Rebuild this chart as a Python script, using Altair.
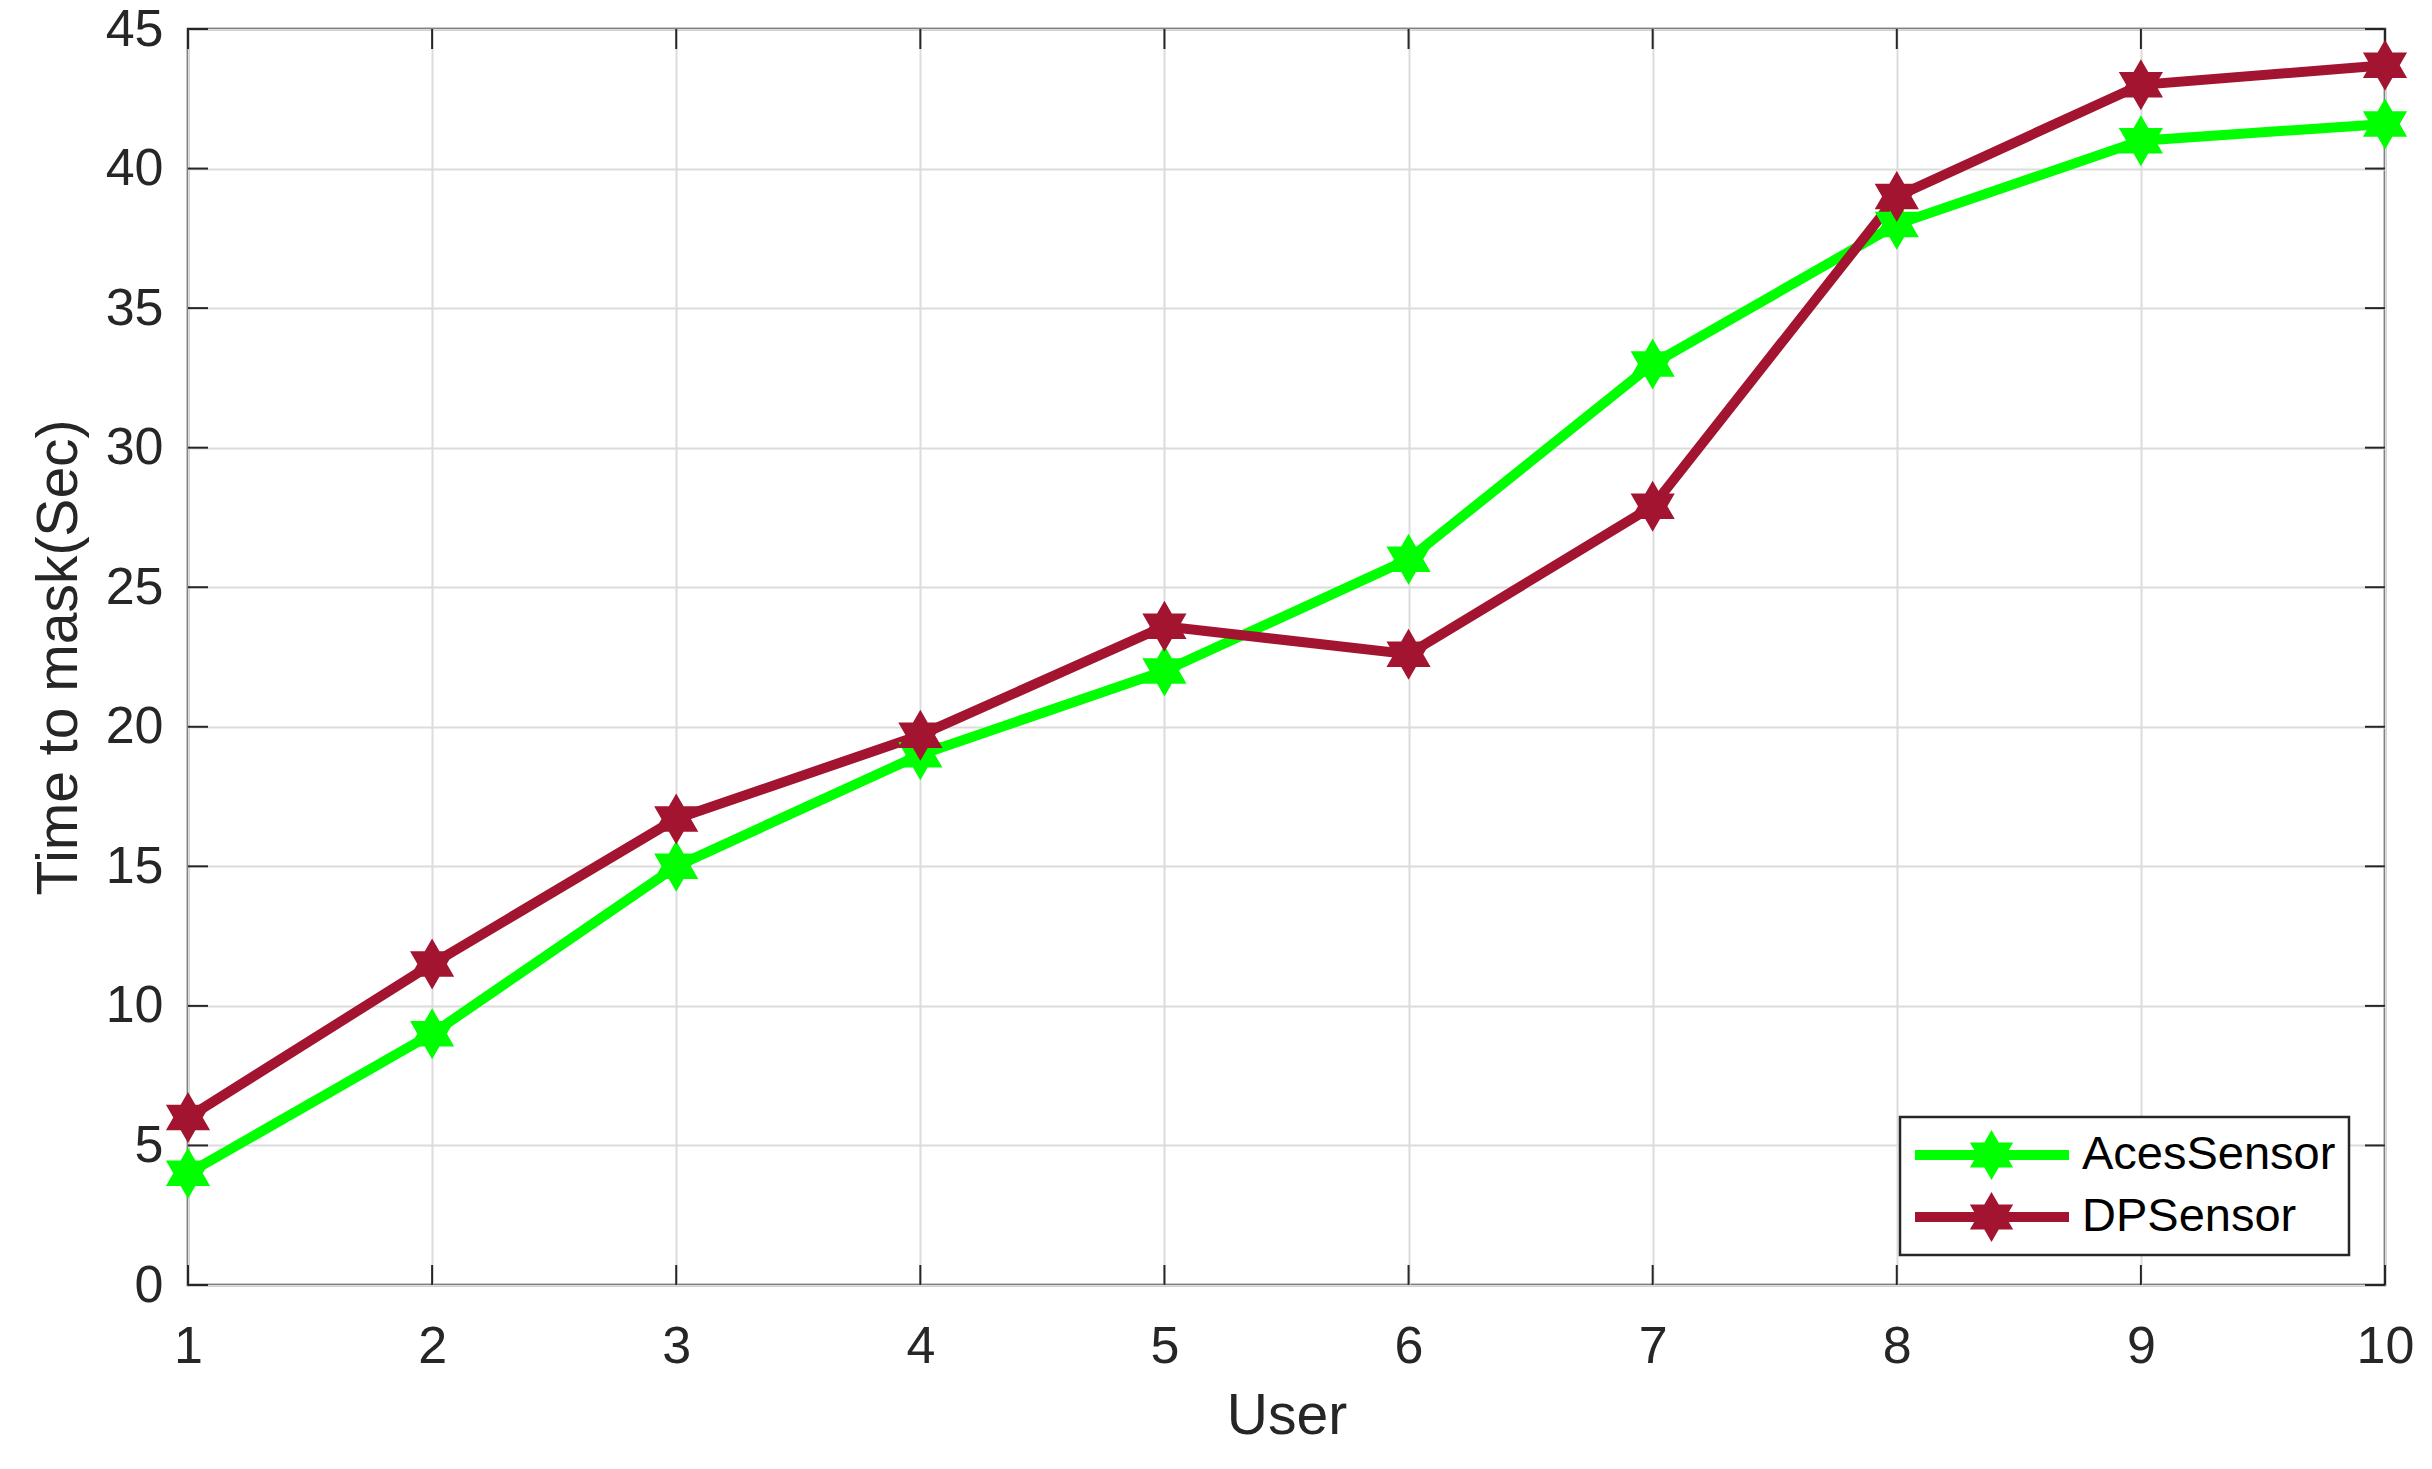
import altair as alt
import pandas as pd

# ---------------- data ----------------
users = [1, 2, 3, 4, 5, 6, 7, 8, 9, 10]
aces_sensor = [4.0, 9.0, 15.0, 19.0, 22.0, 26.0, 33.0, 38.0, 41.0, 41.6]
dp_sensor = [6.0, 11.5, 16.7, 19.7, 23.6, 22.6, 27.9, 39.0, 43.0, 43.7]
series_names = ["AcesSensor", "DPSensor"]
series_colors = ["#00FF00", "#A2142F"]
x_ticks = [1, 2, 3, 4, 5, 6, 7, 8, 9, 10]
y_ticks = [0, 5, 10, 15, 20, 25, 30, 35, 40, 45]

# ---------------- style ----------------
W, H = 2197, 1256
TICK = 20
FONT = "Liberation Sans"
AX = "#262626"

STAR = [(0, -1), (0.2887, -0.5), (0.866, -0.5), (0.5774, 0), (0.866, 0.5),
        (0.2887, 0.5), (0, 1), (-0.2887, 0.5), (-0.866, 0.5), (-0.5774, 0),
        (-0.866, -0.5), (-0.2887, -0.5)]


def star_path(dx=0.0):
    pts = ["%s%.4f,%.4f" % ("M" if i == 0 else "L", x + dx, y) for i, (x, y) in enumerate(STAR)]
    return "".join(pts) + "Z"


HEX = star_path()
# legend glyph: line segment + hexagram (all filled)
LEG = "M-0.92,-0.2L5.24,-0.2L5.24,0.2L-0.92,0.2Z" + star_path(2.14)

df = pd.DataFrame({
    "User": users + users,
    "Time": aces_sensor + dp_sensor,
    "Series": [series_names[0]] * len(users) + [series_names[1]] * len(users),
})
xt = pd.DataFrame({"User": x_ticks})
yt = pd.DataFrame({"Time": y_ticks})

x_enc = alt.X("User:Q", scale=alt.Scale(domain=[1, 10], nice=False, zero=False),
              axis=alt.Axis(values=x_ticks, title="User", labelPadding=36, labelFlush=False,
                            titleX=W / 2, titleY=131, titleBaseline="middle"))
y_enc = alt.Y("Time:Q", scale=alt.Scale(domain=[0, 45], nice=False),
              axis=alt.Axis(values=y_ticks, title="Time to mask(Sec)", labelPadding=25,
                            labelFlush=False,
                            titleX=-129, titleY=H / 2, titleAngle=270, titleBaseline="middle"))
color_scale = alt.Scale(domain=series_names, range=series_colors)
legend = alt.Legend(orient="none", legendX=1712, legendY=1088, title=None,
                    symbolType=LEG, symbolSize=2500, symbolStrokeWidth=0,
                    symbolOpacity=1,
                    labelFont=FONT, labelFontSize=47, labelColor="black",
                    labelOffset=119, labelLimit=600, padding=13, rowPadding=12,
                    strokeColor=AX, fillColor="white")
color_enc = alt.Color("Series:N", scale=color_scale, legend=legend)

lines = alt.Chart(df).mark_line(strokeWidth=10).encode(
    x=x_enc, y=y_enc, color=color_enc,
)

points = alt.Chart(df).mark_point(shape=HEX, filled=True, size=2600, opacity=1, strokeWidth=0).encode(
    x=x_enc, y=y_enc, color=color_enc,
)

t_bottom = alt.Chart(xt).mark_rule(color=AX, strokeWidth=2).encode(
    x=x_enc, y=alt.value(H), y2=alt.value(H - TICK))
t_top = alt.Chart(xt).mark_rule(color=AX, strokeWidth=2).encode(
    x=x_enc, y=alt.value(0), y2=alt.value(TICK))
t_left = alt.Chart(yt).mark_rule(color=AX, strokeWidth=2).encode(
    y=y_enc, x=alt.value(0), x2=alt.value(TICK))
t_right = alt.Chart(yt).mark_rule(color=AX, strokeWidth=2).encode(
    y=y_enc, x=alt.value(W), x2=alt.value(W - TICK))

chart = alt.layer(t_bottom, t_top, t_left, t_right, lines, points).properties(
    width=W, height=H,
    padding={"left": 180, "top": 21, "right": 30, "bottom": 170},
    autosize=alt.AutoSizeParams(type="none"),
    background="white",
).configure_view(
    stroke=AX, strokeWidth=2.5
).configure_axis(
    grid=True, gridColor="#dcdcdc", gridWidth=2, domain=False, ticks=False,
    labelFont=FONT, labelFontSize=52, labelColor=AX,
    titleFont=FONT, titleFontSize=57, titleColor=AX, titleFontWeight="normal",
).configure_legend(
    strokeWidth=2.5
)

chart.save("out.html", embed_options={"renderer": "svg", "actions": False})
